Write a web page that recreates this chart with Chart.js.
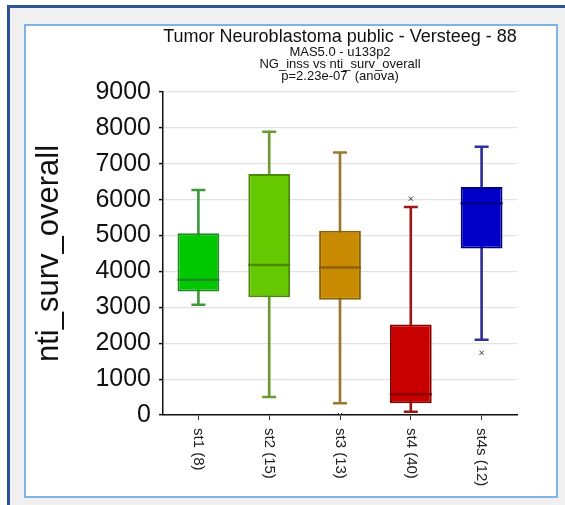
<!DOCTYPE html>
<html>
<head>
<meta charset="utf-8">
<script src="https://cdn.jsdelivr.net/npm/chart.js@4/dist/chart.umd.min.js"></script>
<style>
  body { margin: 0; background: #fff; width: 565px; height: 505px; overflow: hidden; position: relative; }
  .outer { position: absolute; left: 7px; top: 5px; width: 600px; height: 600px; background: #f0f0f0;
           border-left: 3px solid #2f5496; border-top: 3px solid #2f5496; }
  .inner { position: absolute; left: 24px; top: 24px; width: 530px; height: 470px; background: #fff;
           border: 2px solid #7db3e6; }
  #myChart { position: absolute; left: 0; top: 0; }
</style>
</head>
<body>
<div class="outer"></div>
<div class="inner"></div>
<canvas id="myChart" width="565" height="505"></canvas>
<script>
const ctx = document.getElementById('myChart');

const categories = ['st1 (8)', 'st2 (15)', 'st3 (13)', 'st4 (40)', 'st4s (12)'];
const whiskerLow = [3075, 500, 325, 94, 2094];
const q1 = [3444, 3278, 3214, 325, 4639];
const median = [3769, 4178, 4111, 575, 5900];
const q3 = [5067, 6714, 5131, 2519, 6353];
const whiskerHigh = [6270, 7889, 7317, 5797, 7472];
const outliers = [
  { x: 'st3 (13)', y: 0 },
  { x: 'st4 (40)', y: 6028 },
  { x: 'st4s (12)', y: 1733 }
];
const titleLines = ['Tumor Neuroblastoma public - Versteeg - 88', 'MAS5.0 - u133p2', 'NG_inss vs nti_surv_overall', 'p=2.23e-07  (anova)'];
const yTicks = [0, 1000, 2000, 3000, 4000, 5000, 6000, 7000, 8000, 9000];

// colours per group
const fillColors = ['#00c800', '#66c800', '#c88a00', '#c80000', '#0000c8'];
const edgeColors = ['#1f8c1f', '#4a8a00', '#8a6000', '#8a0000', '#000088'];
const whiskerColors = ['#3c9a3c', '#6a9a30', '#9a7630', '#9a1818', '#30309a'];

const FONT = "'Liberation Sans', Arial, sans-serif";

// titles and rotated category labels, centred on the plot area
const textPlugin = {
  id: 'textPlugin',
  afterDraw(chart) {
    const c = chart.ctx;
    const area = chart.chartArea;
    const cx = (area.left + area.right) / 2;
    c.save();
    c.fillStyle = '#111';
    c.textAlign = 'center';
    c.textBaseline = 'middle';
    c.font = '18px ' + FONT;
    c.fillText(titleLines[0], cx, 37);
    c.font = '13px ' + FONT;
    c.fillText(titleLines[1], cx, 52);
    c.fillText(titleLines[2], cx, 64);
    c.fillText(titleLines[3], cx, 76);

    const xs = chart.scales.x;
    c.font = '15px ' + FONT;
    c.fillStyle = '#222';
    c.textAlign = 'left';
    categories.forEach((lab, i) => {
      c.save();
      c.translate(xs.getPixelForValue(i), area.bottom + 13);
      c.rotate(Math.PI / 2);
      c.fillText(lab, 0, 0);
      c.restore();
    });
    c.restore();
  }
};

new Chart(ctx, {
  data: {
    labels: categories,
    datasets: [{
      type: 'bar',
      label: 'whisker',
      data: categories.map((_, i) => [whiskerLow[i], whiskerHigh[i]]),
      backgroundColor: whiskerColors,
      borderWidth: 0,
      barThickness: 2,
      grouped: false,
      order: 5
    }, {
      type: 'bar',
      label: 'box',
      data: categories.map((_, i) => [q1[i], q3[i]]),
      backgroundColor: fillColors,
      borderColor: edgeColors,
      borderWidth: 2,
      borderSkipped: false,
      categoryPercentage: 1,
      barPercentage: 0.59,
      grouped: false,
      order: 4
    }, {
      type: 'line',
      label: 'median',
      data: median,
      showLine: false,
      pointStyle: 'line',
      pointRadius: 21,
      pointBorderWidth: 2.5,
      pointBorderColor: edgeColors,
      order: 3
    }, {
      type: 'line',
      label: 'low',
      data: whiskerLow,
      showLine: false,
      pointStyle: 'line',
      pointRadius: 7,
      pointBorderWidth: 2.5,
      pointBorderColor: whiskerColors,
      order: 2
    }, {
      type: 'line',
      label: 'high',
      data: whiskerHigh,
      showLine: false,
      pointStyle: 'line',
      pointRadius: 7,
      pointBorderWidth: 2.5,
      pointBorderColor: whiskerColors,
      order: 2
    }, {
      type: 'line',
      label: 'outliers',
      data: outliers,
      showLine: false,
      pointStyle: 'crossRot',
      pointRadius: 3,
      pointBorderWidth: 1,
      pointBorderColor: '#333',
      order: 1
    }]
  },
  options: {
    responsive: false,
    animation: false,
    devicePixelRatio: 1,
    layout: { padding: { left: 28, right: 48, top: 92, bottom: 0 } },
    plugins: {
      legend: { display: false },
      tooltip: { enabled: false }
    },
    scales: {
      x: {
        type: 'category',
        offset: true,
        grid: { display: true, drawOnChartArea: false, offset: false, tickLength: 5, tickColor: '#333', tickWidth: 1 },
        border: { color: '#111', width: 1.5 },
        ticks: { display: false },
        afterFit: s => { s.height = 90; }
      },
      y: {
        min: 0,
        max: 9000,
        afterBuildTicks: s => { s.ticks = yTicks.map(v => ({ value: v })); },
        grid: { color: '#e2e2e2', lineWidth: 1.2, tickLength: 4, tickColor: '#111', tickWidth: 1.5 },
        border: { color: '#111', width: 1.5 },
        ticks: { font: { family: FONT, size: 25 }, color: '#111', padding: 8, callback: v => String(v) },
        title: { display: true, text: 'nti_surv_overall', font: { family: FONT, size: 31 }, color: '#111', padding: { top: 3, bottom: 0 } },
        afterFit: s => { s.width = 135; }
      }
    }
  },
  plugins: [textPlugin]
});
</script>
</body>
</html>
